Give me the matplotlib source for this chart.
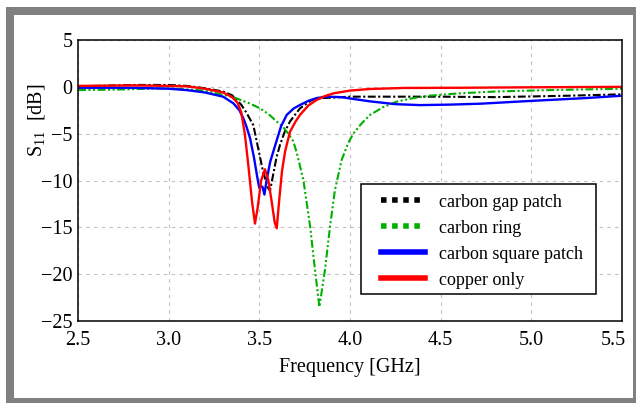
import matplotlib
matplotlib.use("Agg")
import matplotlib.pyplot as plt
from matplotlib.lines import Line2D
from matplotlib.patches import Rectangle
from matplotlib.transforms import ScaledTranslation

# S11 curves (frequency in GHz, S11 in dB)
f_gap = [2.5, 2.8, 3.0, 3.1, 3.2, 3.3, 3.35, 3.40, 3.43, 3.467, 3.494, 3.52, 3.545,
         3.559, 3.575, 3.595, 3.614, 3.64, 3.669, 3.70, 3.724, 3.76, 3.79, 3.85,
         3.908, 4.0, 4.5, 4.8, 5.2, 5.5]
s_gap = [0.05, 0.2, 0.2, 0.1, -0.15, -0.5, -0.9, -1.9, -2.8, -4.1, -6.6, -9.0, -10.7,
         -11.1, -9.5, -7.5, -6.2, -4.8, -3.7, -2.9, -2.3, -1.8, -1.4, -1.2,
         -1.15, -1.05, -1.05, -1.1, -0.95, -0.8]

f_ring = [2.5, 2.7, 3.0, 3.2, 3.3, 3.357, 3.45, 3.504, 3.55, 3.596, 3.632, 3.66,
          3.687, 3.706, 3.743, 3.78, 3.807, 3.831, 3.862, 3.89, 3.917, 3.954,
          3.99, 4.018, 4.06, 4.11, 4.18, 4.258, 4.35, 4.44, 4.6, 4.8, 5.1, 5.5]
s_ring = [-0.35, -0.3, -0.15, -0.4, -0.85, -1.1, -1.8, -2.3, -2.9, -3.7, -4.3, -5.0,
          -5.8, -7.0, -9.95, -14.9, -19.55, -23.5, -19.55, -14.9, -11.0, -7.8,
          -6.0, -5.0, -4.0, -3.0, -2.2, -1.58, -1.2, -0.94, -0.7, -0.5, -0.35, -0.2]

f_square = [2.5, 2.8, 3.0, 3.1, 3.2, 3.3, 3.357, 3.39, 3.412, 3.43, 3.449, 3.47,
            3.49, 3.50, 3.51, 3.518, 3.528, 3.54, 3.56, 3.596, 3.62, 3.651, 3.69,
            3.724, 3.77, 3.816, 3.87, 3.95, 4.11, 4.25, 4.386, 4.55, 4.72, 5.0,
            5.3, 5.5]
s_square = [-0.1, -0.1, -0.2, -0.35, -0.6, -1.05, -1.76, -2.5, -3.36, -4.3, -5.5,
            -7.5, -9.8, -10.8, -10.6, -10.7, -11.5, -10.0, -8.0, -5.7, -4.2, -3.0,
            -2.3, -1.94, -1.5, -1.2, -1.05, -1.1, -1.55, -1.85, -1.95, -1.9, -1.8,
            -1.5, -1.2, -0.95]

f_copper = [2.5, 2.8, 3.0, 3.1, 3.2, 3.3, 3.35, 3.38, 3.40, 3.42, 3.44, 3.46, 3.476,
            3.49, 3.51, 3.531, 3.55, 3.57, 3.585, 3.596, 3.61, 3.625, 3.642, 3.669,
            3.70, 3.724, 3.77, 3.816, 3.86, 3.908, 4.0, 4.11, 4.3, 4.6, 5.0, 5.5]
s_copper = [0.1, 0.15, 0.1, 0.05, -0.2, -0.6, -1.1, -1.7, -2.7, -5.0, -8.5, -12.3, -14.6,
            -13.0, -10.0, -8.8, -10.0, -12.5, -14.5, -15.1, -12.0, -9.0, -6.9, -4.8,
            -3.7, -3.0, -2.0, -1.4, -1.0, -0.7, -0.4, -0.23, -0.12, -0.1, -0.05, 0.0]

labels = ["carbon gap patch", "carbon ring", "carbon square patch", "copper only"]
colors = ["black", "#00b000", "#0000ff", "#ff0000"]
xticks = [2.5, 3.0, 3.5, 4.0, 4.5, 5.0, 5.5]
yticks = [-25, -20, -15, -10, -5, 0, 5]

plt.rcParams["font.family"] = ["Liberation Serif", "DejaVu Serif"]
plt.rcParams["mathtext.fontset"] = "custom"
plt.rcParams["mathtext.rm"] = "Liberation Serif"

fig = plt.figure(figsize=(6.36, 4.03), dpi=100)

# grey frame around the picture
fig.add_artist(Rectangle((6 / 636, 0), 1 - 6 / 636, 396 / 403, transform=fig.transFigure,
                         facecolor="#808080", edgecolor="none", zorder=-10))
fig.add_artist(Rectangle((14 / 636, 5 / 403), 619 / 636, 383 / 403, transform=fig.transFigure,
                         facecolor="white", edgecolor="none", zorder=-9))

ax = fig.add_axes([78 / 636, 82 / 403, 544 / 636, 281 / 403])
ax.set_facecolor("white")

ax.plot(f_gap, s_gap, color=colors[0], lw=1.5, linestyle=(0, (3.8, 1.2, 1, 1.2)))
ax.plot(f_ring, s_ring, color=colors[1], lw=1.5, linestyle=(0, (3.8, 1.2, 1, 1.2, 1, 1.2)))
ax.plot(f_square, s_square, color=colors[2], lw=1.7)
ax.plot(f_copper, s_copper, color=colors[3], lw=1.7)

ax.set_xlim(2.5, 5.5)
ax.set_ylim(-25, 5)
ax.set_xticks(xticks)
ax.set_xticklabels([f"{t:.1f}" for t in xticks])
ax.set_yticks(yticks)
ax.tick_params(axis="both", length=0, labelsize=14.5)
ax.tick_params(axis="x", pad=7)
ax.tick_params(axis="y", pad=4)
ax.grid(True, color="#c0c0c0", linestyle=(0, (3, 4)), lw=0.8)
for sp in ax.spines.values():
    sp.set_linewidth(1.1)
    sp.set_color("black")

# last x label is pulled inside like in the original
last = ax.get_xticklabels()[-1]
last.set_transform(last.get_transform() + ScaledTranslation(-9 / 100, 0, fig.dpi_scale_trans))

ax.set_xlabel("Frequency [GHz]", fontsize=14.5, labelpad=6)
ax.set_ylabel("S$_{11}$  [dB]", fontsize=14.5)
ax.yaxis.set_label_coords(-0.057, 0.715)

# legend frame drawn by hand, legend itself without frame
ax.add_patch(Rectangle((0.5202, 0.0961), 0.432, 0.3915, transform=ax.transAxes,
                       facecolor="white", edgecolor="black", lw=1.1, zorder=5))
handles = [
    Line2D([], [], color=colors[0], lw=4, linestyle=(0, (1, 1))),
    Line2D([], [], color=colors[1], lw=4, linestyle=(0, (1, 1))),
    Line2D([], [], color=colors[2], lw=4),
    Line2D([], [], color=colors[3], lw=4),
]
leg = ax.legend(handles, labels, loc="upper left", bbox_to_anchor=(0.557, 0.453),
                fontsize=13, frameon=False, handlelength=2.45, handletextpad=0.75,
                borderpad=0, labelspacing=0.5, borderaxespad=0)
leg.set_zorder(6)

fig.savefig("out.png", dpi=100)
